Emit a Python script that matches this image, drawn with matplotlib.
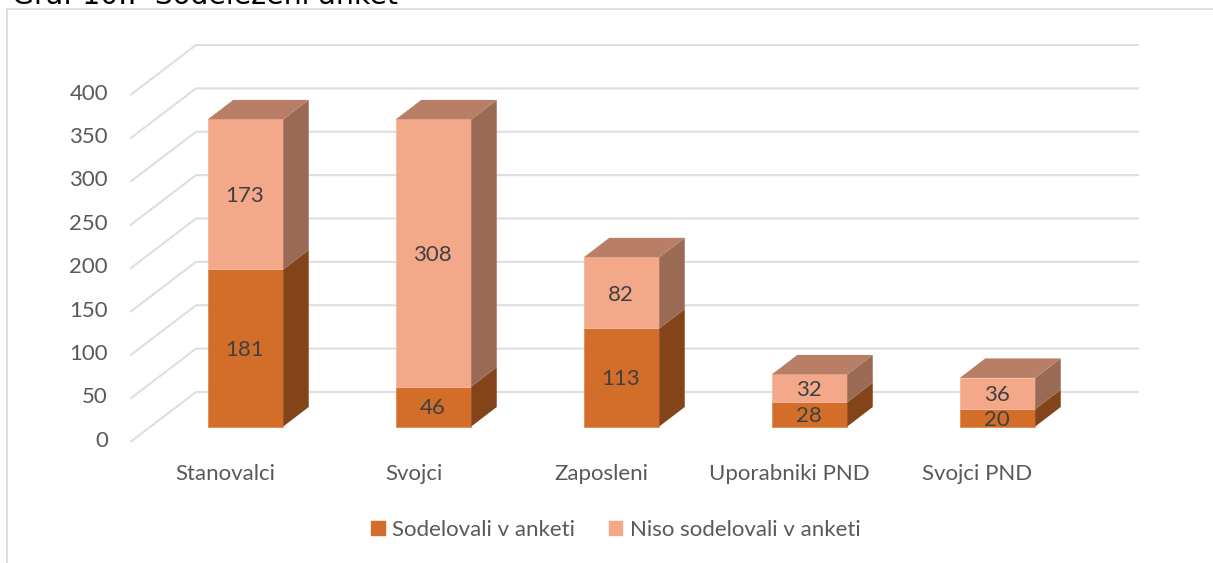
import matplotlib.pyplot as plt
from matplotlib.patches import Rectangle

plt.rcParams['font.family'] = ['Lato', 'DejaVu Sans']

categories = ['Stanovalci', 'Svojci', 'Zaposleni', 'Uporabniki PND', 'Svojci PND']
sodelovali = [181, 46, 113, 28, 20]
niso_sodelovali = [173, 308, 82, 32, 36]
y_ticks = [0, 50, 100, 150, 200, 250, 300, 350, 400]

W, H = 1213, 563
PX_X = 188.0       # pixels per category
PX_Y = 0.8675      # pixels per unit
X0, Y0 = 245.5, 426.5   # pixel of category 0 / value 0 on the bar front

DARK, DARK_SIDE = '#D26E2A', '#84441A'
LIGHT, LIGHT_SIDE, LIGHT_TOP = '#F3A88A', '#9B6A55', '#B87E66'
GRID = '#DEDEDE'
TEXT = '#595959'
FS = 16

bar_w = 75.5 / PX_X
bar_dx, bar_dy = 25.5 / PX_X, 19.5 / PX_Y
wall_x0, wall_x1, wall_x2 = (131 - X0) / PX_X, (196 - X0) / PX_X, (1138 - X0) / PX_X
wall_y0 = (Y0 - 441.5) / PX_Y
wall_dy = 49.5 / PX_Y

fig = plt.figure(figsize=(W / 100, H / 100), dpi=100)
ax = fig.add_axes([0, 0, 1, 1])
ax.set_xlim(-X0 / PX_X, (W - X0) / PX_X)
ax.set_ylim((Y0 - H) / PX_Y, Y0 / PX_Y)
ax.axis('off')

# outer frame of the chart, cut by the image on the right and bottom
frame_x = (7 - X0) / PX_X
frame_y = (Y0 - 9) / PX_Y
ax.plot([frame_x, frame_x], [ax.get_ylim()[0], frame_y], color='#D9D9D9', lw=1.2)
ax.plot([frame_x, ax.get_xlim()[1]], [frame_y, frame_y], color='#D9D9D9', lw=1.2)

# gridlines over floor and side wall
for v in y_ticks:
    yf = wall_y0 + v
    ax.plot([wall_x0, wall_x1, wall_x2], [yf, yf + wall_dy, yf + wall_dy], color=GRID, lw=1.5, zorder=1)
    ax.text(wall_x0 - 23 / PX_X, yf + 1, str(v), ha='right', va='center', fontsize=FS, color=TEXT)

x = list(range(len(categories)))
ax.bar(x, sodelovali, width=bar_w, color=DARK, edgecolor='#E08A55', lw=0.6, zorder=3)
ax.bar(x, niso_sodelovali, width=bar_w, bottom=sodelovali, color=LIGHT, edgecolor='#F6BBA2', lw=0.6, zorder=3)

for i in x:
    r = i + bar_w / 2
    l = i - bar_w / 2
    a = sodelovali[i]
    b = a + niso_sodelovali[i]
    ax.fill([r, r + bar_dx, r + bar_dx, r], [0, bar_dy, a + bar_dy, a], color=DARK_SIDE, lw=0, zorder=3)
    ax.fill([r, r + bar_dx, r + bar_dx, r], [a, a + bar_dy, b + bar_dy, b], color=LIGHT_SIDE, lw=0, zorder=3)
    ax.fill([l, r, r + bar_dx, l + bar_dx], [b, b, b + bar_dy, b + bar_dy], color=LIGHT_TOP, lw=0, zorder=3)
    ax.text(i - 0.005, a / 2 - 2, str(a), ha='center', va='center', fontsize=FS, color='#404040', zorder=4)
    ax.text(i - 0.005, a + niso_sodelovali[i] / 2 - 2, str(niso_sodelovali[i]), ha='center', va='center', fontsize=FS, color='#404040', zorder=4)
    ax.text(i - 0.106, (Y0 - 473.5) / PX_Y, categories[i], ha='center', va='center', fontsize=FS, color=TEXT)

handles = [Rectangle((0, 0), 1, 1, color=DARK), Rectangle((0, 0), 1, 1, color=LIGHT)]
fig.legend(handles, ['Sodelovali v anketi', 'Niso sodelovali v anketi'], loc='center',
           bbox_to_anchor=(616 / W, 1 - 530 / H), ncol=2, frameon=False, fontsize=FS,
           labelcolor=TEXT, handlelength=0.6, handleheight=0.6, handletextpad=0.35, columnspacing=1.5)

# title is cut by the top of the image, only its lower part shows
fig.text(12 / W, 1 - 3.5 / H, 'Graf 10.:  Sodelezeni anket', fontsize=20.4, color='black', ha='left', va='baseline',
         family=['DejaVu Sans'])

fig.savefig('out.png', dpi=100)
